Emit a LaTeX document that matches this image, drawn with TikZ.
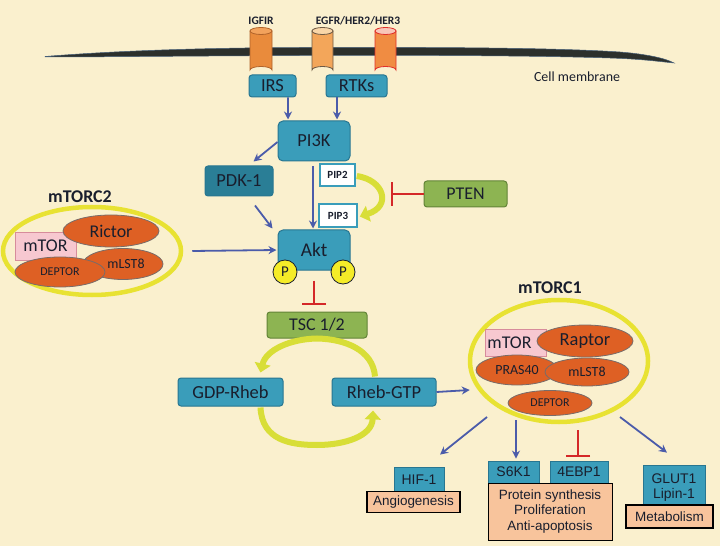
\documentclass[tikz,border=0pt]{standalone}
\usepackage{fontspec}
\setmainfont{Carlito}
\newfontfamily\arialf{Liberation Sans}
\usetikzlibrary{arrows.meta,shapes.geometric,calc}
\definecolor{bg}{RGB}{250,240,206}
\definecolor{tealc}{RGB}{58,157,186}
\definecolor{tealdark}{RGB}{40,118,145}
\definecolor{pdkc}{RGB}{42,126,150}
\definecolor{greenbox}{RGB}{141,180,82}
\definecolor{greenedge}{RGB}{98,132,55}
\definecolor{orangeel}{RGB}{222,96,36}
\definecolor{orangeedge}{RGB}{120,108,105}
\definecolor{pinkbox}{RGB}{247,200,208}
\definecolor{pinkedge}{RGB}{215,140,155}
\definecolor{yring}{RGB}{232,226,50}
\definecolor{pyellow}{RGB}{245,236,40}
\definecolor{bluearr}{RGB}{75,92,170}
\definecolor{redinh}{RGB}{212,40,40}
\definecolor{peach}{RGB}{248,196,156}
\definecolor{txt}{RGB}{25,30,45}
\definecolor{yarr}{RGB}{216,222,55}
\definecolor{memb}{RGB}{44,48,44}
\definecolor{membedge}{RGB}{70,95,120}
\begin{document}
\begin{tikzpicture}[x=1bp,y=-1bp,
  tbox/.style={draw=tealdark, fill=tealc, line width=1bp, rounded corners=3bp, text=txt, inner sep=0pt, font=\fontsize{18.5}{19}\selectfont},
  gbox/.style={draw=greenedge, fill=greenbox, line width=1bp, rounded corners=3bp, text=txt, inner sep=0pt, font=\fontsize{18}{19}\selectfont},
  pipbox/.style={draw=tealc, fill=white, line width=1.6bp, text=txt, inner sep=0pt, font=\bfseries\fontsize{11}{11}\selectfont},
  oel/.style={ellipse, draw=orangeedge, fill=orangeel, line width=0.8bp, inner sep=0pt, text=txt},
  pbox/.style={draw=pinkedge, fill=pinkbox, line width=0.8bp, inner sep=0pt, text=txt, font=\fontsize{18}{18}\selectfont},
  ring/.style={ellipse, draw=yring, line width=4.5bp, inner sep=0pt},
  pcirc/.style={circle, draw=txt, fill=pyellow, line width=0.8bp, minimum size=24bp, inner sep=0pt, text=txt, font=\fontsize{15}{15}\selectfont},
  abox/.style={draw=tealdark, fill=tealc, line width=0.8bp, inner sep=0pt, text=txt, font=\arialf\fontsize{14}{15}\selectfont, align=center},
  outbox/.style={draw=black, fill=peach, line width=1.8bp, inner sep=0pt, text=txt, font=\arialf\fontsize{13.5}{16}\selectfont, align=center},
  barr/.style={draw=bluearr, line width=1.8bp, -{Stealth[length=8bp,width=8bp]}},
  rinh/.style={draw=redinh, line width=1.8bp, -{Bar[width=24bp,line width=2bp]}},
  yarrow/.style={draw=yarr, line width=6bp, -{Triangle[length=9bp,width=16bp]}},
  lbl/.style={text=txt, inner sep=0pt}
]
\useasboundingbox (0,0) rectangle (720,546);
\fill[bg] (0,0) rectangle (720,546);

% membrane
\filldraw[fill=memb, draw=membedge, line width=0.5bp]
  (45,56.5) .. controls (100,52) and (180,48) .. (300,47.5)
  .. controls (450,47) and (560,48) .. (620,52)
  .. controls (645,54) and (665,58) .. (674,63)
  .. controls (655,61) and (640,59) .. (610,58)
  .. controls (550,56) and (450,55) .. (300,55.5)
  .. controls (180,56) and (100,57) .. (45,57) -- cycle;

% receptors
\filldraw[fill={rgb,255:red,233;green,139;blue,60}, draw={rgb,255:red,176;green,99;blue,42}, line width=0.8bp]
  (250,31) -- (250,70) arc[start angle=180,end angle=360,x radius=11,y radius=3.5] -- (272,31) -- cycle;
\filldraw[fill={rgb,255:red,242;green,162;blue,92}, draw={rgb,255:red,176;green,99;blue,42}, line width=0.8bp]
  (261,31) ellipse [x radius=11, y radius=3.5];
\filldraw[fill={rgb,255:red,243;green,166;blue,90}, draw={rgb,255:red,110;green,90;blue,69}, line width=0.8bp]
  (312,31) -- (312,70) arc[start angle=180,end angle=360,x radius=10.5,y radius=3.5] -- (333,31) -- cycle;
\filldraw[fill={rgb,255:red,249;green,214;blue,168}, draw={rgb,255:red,110;green,90;blue,69}, line width=0.8bp]
  (322.5,31) ellipse [x radius=10.5, y radius=3.5];
\filldraw[fill={rgb,255:red,240;green,140;blue,66}, draw={rgb,255:red,224;green,48;blue,42}, line width=0.8bp]
  (375,31) -- (375,70) arc[start angle=180,end angle=360,x radius=10.5,y radius=3.5] -- (396,31) -- cycle;
\filldraw[fill={rgb,255:red,248;green,198;blue,184}, draw={rgb,255:red,224;green,48;blue,42}, line width=0.8bp]
  (385.5,31) ellipse [x radius=10.5, y radius=3.5];

\node[lbl, font=\bfseries\fontsize{11.5}{12}\selectfont] (igfir) at (261,21) {IGFIR};
\node[lbl, font=\bfseries\fontsize{11.5}{12}\selectfont] (egfr) at (358,21) {EGFR/HER2/HER3};
\node[lbl, font=\fontsize{14}{15}\selectfont] (cellm) at (577,77) {Cell membrane};

% top boxes
\node[tbox, minimum width=47bp, minimum height=22bp] (irs) at (272.5,86) {IRS};
\node[tbox, minimum width=61bp, minimum height=22bp] (rtks) at (356.5,86) {RTKs};
\node[tbox, minimum width=72bp, minimum height=40bp, rounded corners=5bp] (pi3k) at (314,141) {PI3K};
\node[tbox, fill=pdkc, minimum width=68bp, minimum height=30bp] (pdk1) at (239,181) {PDK-1};
\node[pipbox, minimum width=35bp, minimum height=22bp] (pip2) at (337.5,175) {PIP2};
\node[pipbox, minimum width=38bp, minimum height=23bp] (pip3) at (338,215.5) {PIP3};
\node[gbox, minimum width=83bp, minimum height=26bp] (pten) at (465.5,194) {PTEN};
\node[tbox, minimum width=72bp, minimum height=40bp, rounded corners=5bp, font=\fontsize{19.5}{20}\selectfont] (akt) at (314,250) {Akt};
\node[pcirc] (pl) at (285,272) {P};
\node[pcirc] (pr) at (343,272) {P};

% mTORC2
\node[lbl, font=\bfseries\fontsize{18}{18}\selectfont] (mtorc2l) at (80,197) {mTORC2};
\node[ring, minimum width=178bp, minimum height=88bp] (c2) at (92,251) {};
\node[pbox, minimum width=61bp, minimum height=28bp] (mtor2) at (45.5,246) {mTOR};
\node[oel, minimum width=96bp, minimum height=32bp, font=\fontsize{18}{18}\selectfont] (rictor) at (111,231) {Rictor};
\node[oel, minimum width=80bp, minimum height=31bp, font=\fontsize{14}{14}\selectfont] (mlst82) at (123,264) {\hspace*{6bp}mLST8};
\node[oel, minimum width=90bp, minimum height=30bp, font=\fontsize{12}{12}\selectfont] (deptor2) at (60,272) {DEPTOR};

% TSC / Rheb
\node[gbox, minimum width=100bp, minimum height=26bp] (tsc) at (317,325) {TSC 1/2};
\node[tbox, minimum width=105bp, minimum height=28bp] (gdp) at (230.5,392) {GDP-Rheb};
\node[tbox, minimum width=104bp, minimum height=28bp] (gtp) at (384,392) {Rheb-GTP};

% mTORC1
\node[lbl, font=\bfseries\fontsize{18}{18}\selectfont] (mtorc1l) at (550,288) {mTORC1};
\node[ring, minimum width=178bp, minimum height=122bp] (c1) at (559,361) {};
\node[pbox, minimum width=61bp, minimum height=27bp] (mtor1) at (515.5,342.5) {mTOR\hspace*{12bp}};
\node[oel, minimum width=96bp, minimum height=32bp, font=\fontsize{18.5}{18}\selectfont] (raptor) at (585,341) {Raptor};
\node[oel, minimum width=82bp, minimum height=30bp, font=\fontsize{14}{14}\selectfont] (pras40) at (517,370) {PRAS40};
\node[oel, minimum width=84bp, minimum height=28bp, font=\fontsize{14}{14}\selectfont] (mlst81) at (587,372) {mLST8};
\node[oel, minimum width=84bp, minimum height=25bp, font=\fontsize{12}{12}\selectfont] (deptor1) at (550,403) {DEPTOR};

% outputs
\node[abox, minimum width=50bp, minimum height=25bp] (hif) at (419,479.5) {HIF-1};
\node[outbox, minimum width=93bp, minimum height=21bp] (angio) at (413.5,502) {Angiogenesis};
\node[abox, minimum width=51bp, minimum height=22bp] (s6k1) at (513.5,472) {S6K1};
\node[abox, minimum width=58bp, minimum height=22bp] (ebp) at (579,472) {4EBP1};
\node[outbox, line width=1bp, minimum width=124bp, minimum height=57bp] (prot) at (550,511.5) {Protein synthesis\\Proliferation\\Anti-apoptosis};
\node[abox, minimum width=62bp, minimum height=42bp, text depth=0pt, font=\arialf\fontsize{14}{15.5}\selectfont] (glut) at (674,486) {GLUT1\\Lipin-1};
\node[outbox, minimum width=87bp, minimum height=23bp] (metab) at (669.5,516.5) {Metabolism};

% arrows
\draw[barr] ($(irs.south)+(15.5,0)$) -- ($(pi3k.north)+(-26,-1)$);
\draw[barr] ($(rtks.south)+(-19.5,0)$) -- ($(pi3k.north)+(23,-1)$);
\draw[barr] ($(pi3k.west)+(0,1)$) -- ($(pdk1.north east)+(-20,-4)$);
\draw[barr] ($(pi3k.south)+(-1,5)$) -- ($(akt.north)+(-1,-1)$);
\draw[barr] ($(pdk1.south)+(16,9)$) -- ($(akt.north west)+(-5,-1)$);
\draw[barr] ($(c2.east)+(9,0)$) -- ($(akt.west)+(-1,0)$);
\draw[rinh] (pten.west) -- ($(pten.west)+(-33,0)$);
\draw[rinh] ($(akt.south)+(0,10)$) -- ($(tsc.north)+(-3,-7)$);
\draw[barr] (gtp.east) -- ($(c1.west |- gtp.east)+(2,-2)$);
\draw[barr] ($(c1.center)+(-72,56)$) -- ($(hif.north)+(21,-12)$);
\draw[barr] ($(c1.center)+(-43,59)$) -- ($(s6k1.north)+(2.5,-2)$);
\draw[rinh] ($(c1.center)+(19,69)$) -- ($(ebp.north)+(-1,-4)$);
\draw[barr] ($(c1.center)+(61,56)$) -- ($(glut.north)+(-7,-12)$);

% yellow conversion arrows
\draw[yarrow] ($(pip2.east)+(1,1)$) .. controls (384,180) and (392,206) .. ($(pip3.east)+(2,1)$);
\draw[yarrow] ($(gtp.north)+(-9,-1)$) .. controls (373,350) and (345,339) .. (tsc.south)
   .. controls (290,339) and (266,350) .. ($(gdp.north)+(30,-5)$);
\draw[yarrow] ($(gdp.south)+(30,1)$) .. controls (262,440) and (290,445) .. (317,445)
   .. controls (345,445) and (372,436) .. ($(gtp.south)+(-11,4)$);
\end{tikzpicture}
\end{document}
